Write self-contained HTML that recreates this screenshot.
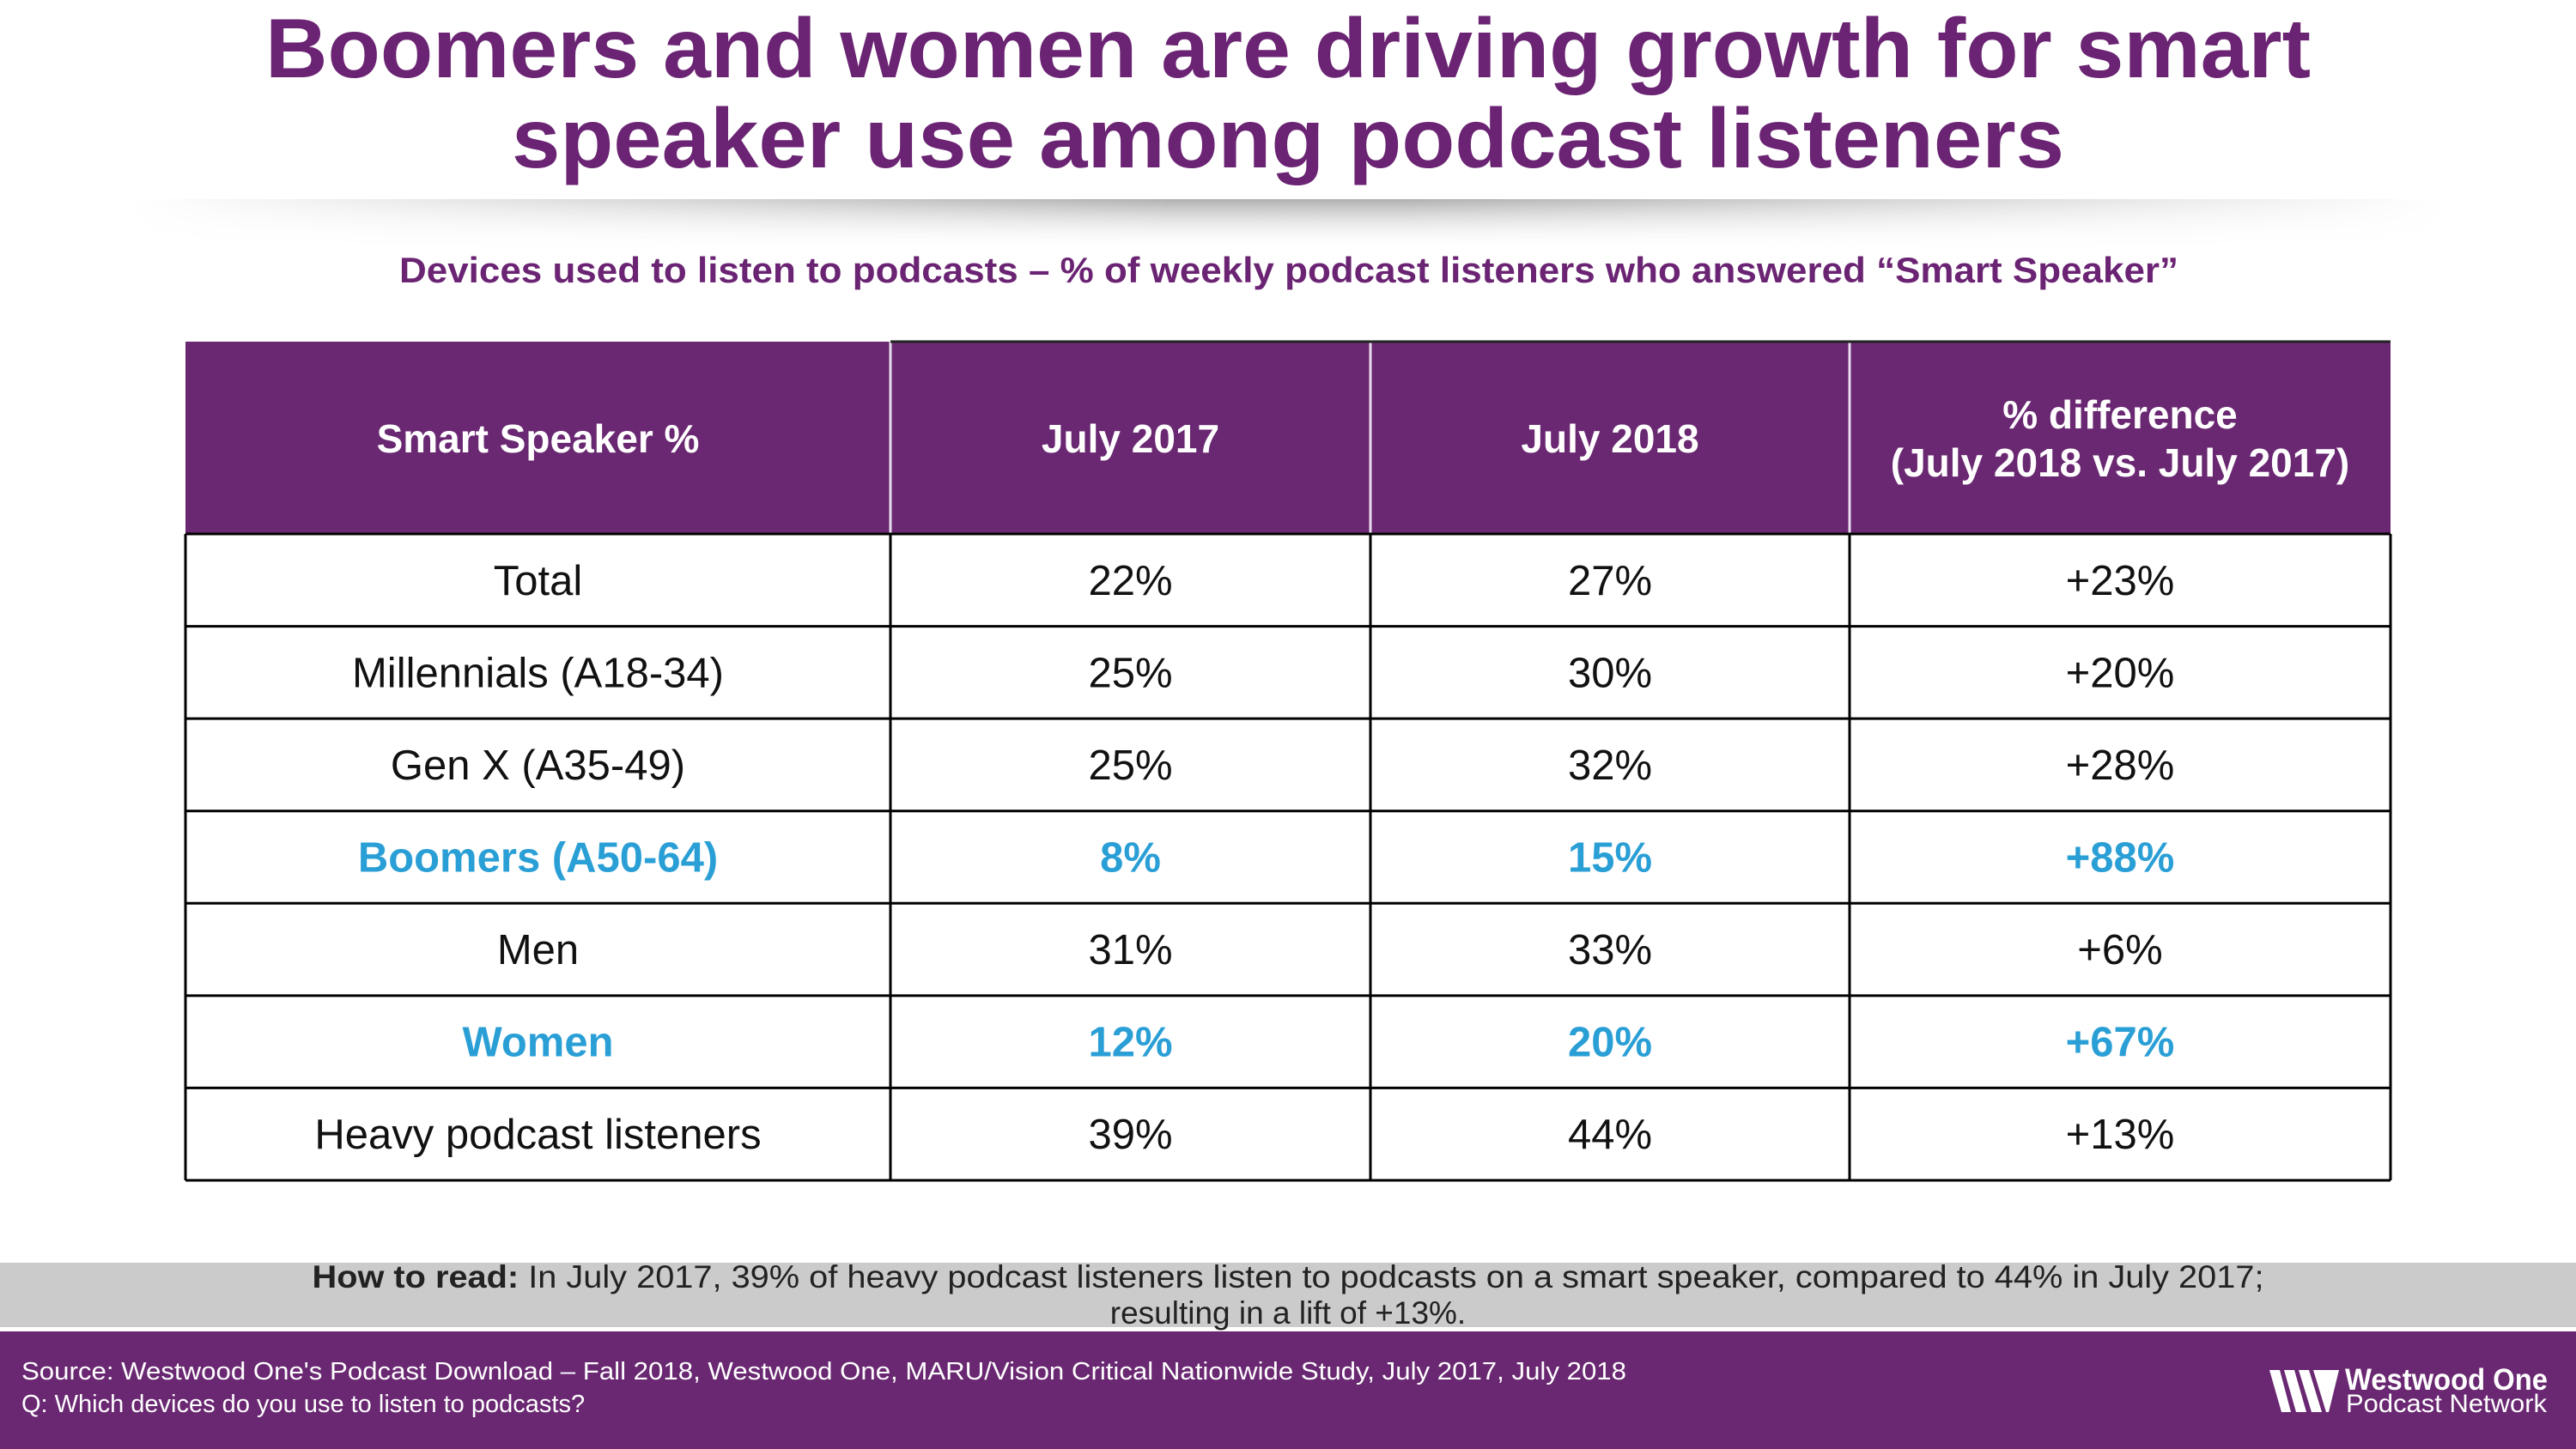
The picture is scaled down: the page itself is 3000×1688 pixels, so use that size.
<!DOCTYPE html>
<html><head><meta charset="utf-8"><style>
html,body{margin:0;padding:0;background:#fff;}
svg{display:block;font-family:"Liberation Sans",sans-serif;}
</style></head><body>
<svg id="s" width="3000" height="1688" viewBox="0 0 3000 1688" xmlns="http://www.w3.org/2000/svg">
<defs>
<linearGradient id="shv" x1="0" y1="0" x2="0" y2="1"><stop offset="0" stop-color="#b0b0b0"/><stop offset="1" stop-color="#fff" stop-opacity="0"/></linearGradient>
<linearGradient id="shh" x1="0" y1="0" x2="1" y2="0"><stop offset="0" stop-color="#fff"/><stop offset="0.45" stop-color="#fff" stop-opacity="0"/><stop offset="0.55" stop-color="#fff" stop-opacity="0"/><stop offset="1" stop-color="#fff"/></linearGradient>
</defs>
<g>
<rect x="150" y="232" width="2700" height="60" fill="url(#shv)"/>
<rect x="150" y="232" width="2700" height="60" fill="url(#shh)"/>
</g>
<text x="1500" y="90" text-anchor="middle" font-size="98" font-weight="bold" fill="#6b2473" textLength="2382" lengthAdjust="spacingAndGlyphs">Boomers and women are driving growth for smart</text>
<text x="1500" y="195" text-anchor="middle" font-size="98" font-weight="bold" fill="#6b2473" textLength="1808" lengthAdjust="spacingAndGlyphs">speaker use among podcast listeners</text>
<text x="1501" y="329" text-anchor="middle" font-size="42" font-weight="bold" fill="#6b2473" textLength="2072" lengthAdjust="spacingAndGlyphs">Devices used to listen to podcasts – % of weekly podcast listeners who answered “Smart Speaker”</text>
<g id="tbl"></g>
<rect x="0" y="1471" width="3000" height="75" fill="#cbcbcb"/>
<text x="1500" y="1500" text-anchor="middle" font-size="37" fill="#222" textLength="2273" lengthAdjust="spacingAndGlyphs"><tspan font-weight="bold">How to read:</tspan> In July 2017, 39% of heavy podcast listeners listen to podcasts on a smart speaker, compared to 44% in July 2017;</text>
<text x="1500" y="1542" text-anchor="middle" font-size="37" fill="#222">resulting in a lift of +13%.</text>
<rect x="0" y="1551" width="3000" height="137" fill="#6a2872"/>
<text x="25" y="1607" font-size="29" fill="#fff" textLength="1869" lengthAdjust="spacingAndGlyphs">Source: Westwood One's Podcast Download – Fall 2018, Westwood One, MARU/Vision Critical Nationwide Study, July 2017, July 2018</text>
<text x="25" y="1645" font-size="29" fill="#fff">Q: Which devices do you use to listen to podcasts?</text>
<g>
<g fill="#fff">
<polygon points="2643,1596 2655,1596 2668,1645 2657,1645"/>
<polygon points="2660,1596 2672,1596 2686,1645 2674,1645"/>
<polygon points="2677,1596 2689,1596 2704,1645 2692,1645"/>
<polygon points="2694,1596 2724,1596 2712,1645 2709,1645"/>
</g>
<text x="2731" y="1619" font-size="35" font-weight="bold" fill="#fff" textLength="236" lengthAdjust="spacingAndGlyphs">Westwood One</text>
<text x="2732" y="1645" font-size="30" fill="#fff" textLength="234" lengthAdjust="spacingAndGlyphs">Podcast Network</text>
</g>
</svg>
<script>
const headers = ["Smart Speaker %","July 2017","July 2018","% difference|(July 2018 vs. July 2017)"];
const categories = ["Total","Millennials (A18-34)","Gen X (A35-49)","Boomers (A50-64)","Men","Women","Heavy podcast listeners"];
const july2017 = [22,25,25,8,31,12,39];
const july2018 = [27,30,32,15,33,20,44];
const pctDiff = [23,20,28,88,6,67,13];
const highlighted = [false,false,false,true,false,true,false];

const NS="http://www.w3.org/2000/svg";
const g=document.getElementById('tbl');
const colX=[216,1037,1596,2154,2784];
const headTop=398, headBot=622, rowH=(1375-622)/categories.length;
function mk(tag,attrs,parent){const e=document.createElementNS(NS,tag);for(const k in attrs)e.setAttribute(k,attrs[k]);(parent||g).appendChild(e);return e;}
const hb=mk('rect',{x:colX[0],y:headTop,width:colX[4]-colX[0],height:headBot-headTop,fill:'#6a2872'});


for(let c=1;c<4;c++){const l=mk('line',{x1:colX[c],x2:colX[c],y1:headTop,y2:headBot,stroke:'#e8dced','stroke-width':3});

}
headers.forEach((h,i)=>{const cx=(colX[i]+colX[i+1])/2;const parts=h.split('|');
parts.forEach((p,j)=>{const y=(headBot+headTop)/2+17+(j-(parts.length-1)/2)*56;
const t=mk('text',{x:cx,y:y,'text-anchor':'middle','font-size':46,'font-weight':'bold',fill:'#fff'});t.textContent=p;

});});
categories.forEach((cat,r)=>{const y0=headBot+r*rowH;const col=highlighted[r]?'#2a9fd6':'#111';const fw=highlighted[r]?'bold':'normal';
const vals=[cat,july2017[r]+'%',july2018[r]+'%','+'+pctDiff[r]+'%'];
vals.forEach((v,i)=>{const t=mk('text',{x:(colX[i]+colX[i+1])/2,y:y0+rowH/2+17,'text-anchor':'middle','font-size':49,'font-weight':fw,fill:col});t.textContent=v;

});
const l=mk('line',{x1:colX[0],x2:colX[4],y1:y0+rowH,y2:y0+rowH,stroke:'#000','stroke-width':3});

});
const yEnd=headBot+categories.length*rowH;
mk('line',{x1:colX[0],x2:colX[4],y1:headBot,y2:headBot,stroke:'#000','stroke-width':3});
for(let c=0;c<5;c++){const l=mk('line',{x1:colX[c],x2:colX[c],y1:headBot,y2:yEnd,stroke:'#000','stroke-width':3});

}
mk('line',{x1:colX[1],x2:colX[4],y1:headTop,y2:headTop,stroke:'#222','stroke-width':3});
</script>
</body></html>
